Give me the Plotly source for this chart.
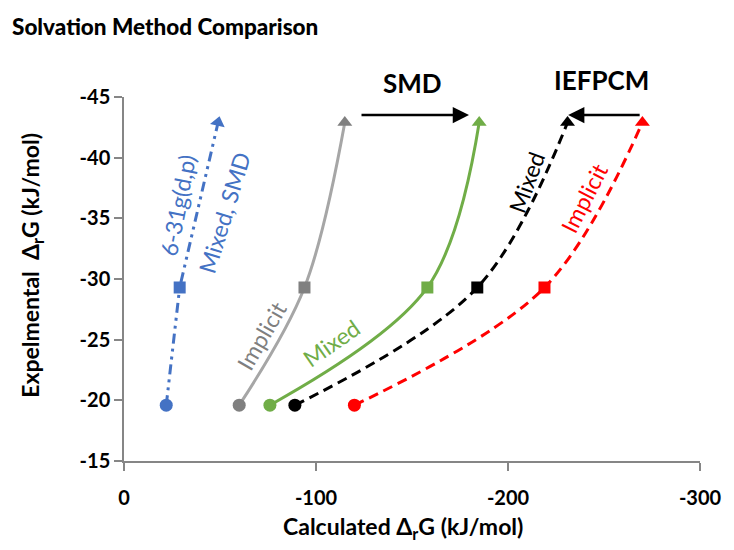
import plotly.graph_objects as go

# ---- data ----
exp_dG = [-19.6, -29.3, -42.9]                 # experimental ΔrG (kJ/mol)
calc_631g_mixed_smd = [-22, -29, -49]          # 6-31g(d,p), Mixed, SMD
calc_smd_implicit = [-60, -94, -115]
calc_smd_mixed = [-76, -158, -185]
calc_iefpcm_mixed = [-89, -184, -231]
calc_iefpcm_implicit = [-120, -219, -270]

x_tick_vals = [0, -100, -200, -300]
y_tick_vals = [-45, -40, -35, -30, -25, -20, -15]

symbols = ["circle", "square", "triangle-up"]

fig = go.Figure()


def add_series(xs, line_color, marker_color, dash, shape, angles=None):
    fig.add_trace(go.Scatter(
        x=xs, y=exp_dG, mode="lines+markers",
        line=dict(color=line_color, width=3, dash=dash, shape=shape, smoothing=1),
        marker=dict(symbol=symbols, size=[13, 12, 13], color=marker_color, opacity=1,
                    line=dict(width=0), angle=angles if angles else [0, 0, 0]),
        opacity=1, showlegend=False, hoverinfo="skip",
    ))


add_series(calc_631g_mixed_smd, "#4472C4", "#4472C4", "10px,5px,3px,5px,3px,5px", "linear", [0, 0, 13])
add_series(calc_smd_implicit, "#A6A6A6", "#808080", "solid", "spline")
add_series(calc_smd_mixed, "#70AD47", "#70AD47", "solid", "spline")
add_series(calc_iefpcm_mixed, "#000000", "#000000", "10px,6px", "spline")
add_series(calc_iefpcm_implicit, "#FF0000", "#FF0000", "10px,6px", "spline")

W, H = 734, 550
PX0, PX1, PY0, PY1 = 124, 705, 97, 461


def px_x(px):
    return (px - PX0) / (PX1 - PX0)


def px_y(py):
    return (PY1 - py) / (PY1 - PY0)


def text_at(px, py, txt, size, color, angle=0, bold=False):
    fig.add_annotation(x=px_x(px), y=px_y(py), xref="paper", yref="paper", text=txt,
                       xanchor="center", yanchor="middle", showarrow=False, textangle=angle,
                       font=dict(family=FONT, size=size, color=color,
                                 weight="bold" if bold else "normal"))


FONT = "Lato"
labels = [
    ("6-31g(d,p)", 178, 206, -79, "#4472C4"),
    ("Mixed, SMD", 225, 213, -73, "#4472C4"),
    ("Implicit", 263, 335, -60, "#7F7F7F"),
    ("Mixed", 333, 343, -35, "#70AD47"),
    ("Mixed", 530, 182, -70, "#000000"),
    ("Implicit", 588, 198, -63, "#FF0000"),
]
for txt, px, py, ang, col in labels:
    text_at(px, py, txt, 23, col, ang)

text_at(415, 83, "SMD", 26, "#000000", bold=True)
text_at(606, 80, "IEFPCM", 26, "#000000", bold=True)

# direction arrows
for x_head, x_tail in [(472, 363), (572, 645)]:
    fig.add_annotation(x=px_x(x_head), y=px_y(115), ax=x_tail - x_head, ay=0,
                       xref="paper", yref="paper", axref="pixel", ayref="pixel",
                       text="", showarrow=True, arrowhead=2, arrowsize=1.3,
                       arrowwidth=2.5, arrowcolor="#000000")

# axis titles
text_at(405, 527, "Calculated Δ<sub>r</sub>G (kJ/mol)", 23, "#000000", bold=True)
text_at(30, 265, "Expelmental  Δ<sub>r</sub>G (kJ/mol)", 23, "#000000", angle=-90, bold=True)

fig.update_layout(
    width=W, height=H,
    margin=dict(l=PX0, r=W - PX1, t=PY0, b=H - PY1),
    paper_bgcolor="white", plot_bgcolor="white",
    title=dict(text="Solvation Method Comparison", x=12 / W, xanchor="left",
               y=1 - 27 / H, yanchor="middle",
               font=dict(family=FONT, size=22.5, color="#000000", weight=900)),
    font=dict(family=FONT, size=20, color="#000000"),
)
axis_common = dict(showgrid=False, zeroline=False, showline=True, linecolor="#868686",
                   linewidth=1.5, ticks="outside", ticklen=8, tickcolor="#868686", tickwidth=1.5,
                   tickfont=dict(family=FONT, size=20, color="#000000", weight="bold"))
fig.update_xaxes(range=[0, -300], tickvals=x_tick_vals, ticktext=[str(v) for v in x_tick_vals],
                 ticklabelstandoff=10, **axis_common)
fig.update_yaxes(range=[-15, -45], tickvals=y_tick_vals, ticktext=[str(v) for v in y_tick_vals],
                 **axis_common)

fig.write_html("out.html")
